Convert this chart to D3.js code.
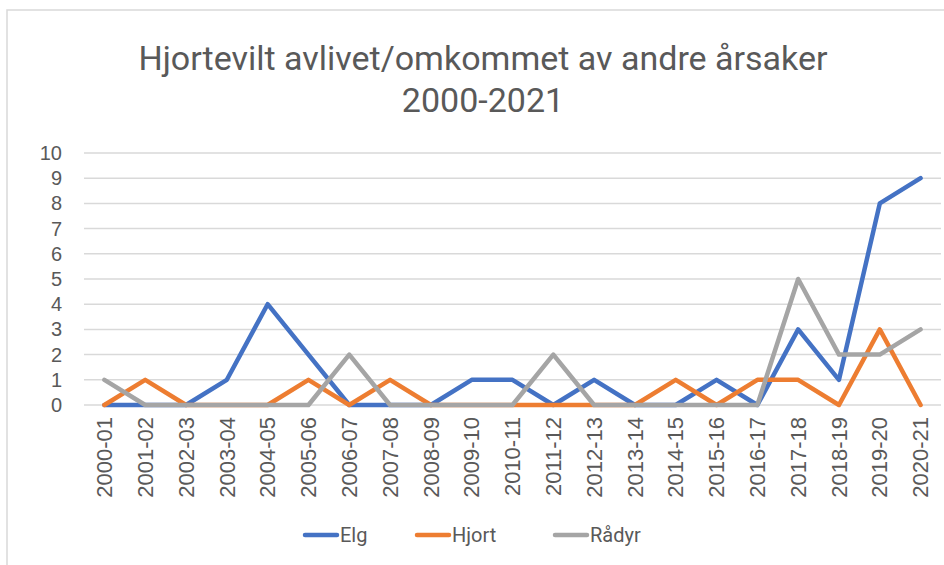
<!DOCTYPE html>
<html>
<head>
<meta charset="utf-8">
<script src="https://cdn.jsdelivr.net/npm/d3@7"></script>
<style>
  body { margin: 0; background: #fff; }
  svg { display: block; font-family: Roboto, "Liberation Sans", sans-serif; }
</style>
</head>
<body>
<svg id="chart" width="944" height="565"></svg>
<script>
var seasons = ["2000-01","2001-02","2002-03","2003-04","2004-05","2005-06","2006-07","2007-08","2008-09","2009-10",
  "2010-11","2011-12","2012-13","2013-14","2014-15","2015-16","2016-17","2017-18","2018-19","2019-20","2020-21"];
var elg    = [0,0,0,1,4,2,0,0,0,1,1,0,1,0,0,1,0,3,1,8,9];
var hjort  = [0,1,0,0,0,1,0,1,0,0,0,0,0,0,1,0,1,1,0,3,0];
var raadyr = [1,0,0,0,0,0,2,0,0,0,0,2,0,0,0,0,0,5,2,2,3];
var yTicks = [0,1,2,3,4,5,6,7,8,9,10];

var series = [
  {name: "Elg", values: elg, color: "#4472c4"},
  {name: "Hjort", values: hjort, color: "#ed7d31"},
  {name: "Rådyr", values: raadyr, color: "#a5a5a5"}
];

var svg = d3.select("#chart");
var plotLeft = 84, plotRight = 941, plotTop = 153, plotBottom = 405;

// chart frame
svg.append("rect").attr("x", 7).attr("y", 10).attr("width", 960).attr("height", 580)
  .attr("fill", "none").attr("stroke", "#d9d9d9").attr("stroke-width", 1.5);

// title
svg.append("text").attr("x", 483).attr("y", 70).attr("text-anchor", "middle")
  .attr("font-size", 34).attr("fill", "#595959").text("Hjortevilt avlivet/omkommet av andre årsaker");
svg.append("text").attr("x", 483).attr("y", 112).attr("text-anchor", "middle")
  .attr("font-size", 34).attr("fill", "#595959").text("2000-2021");

var x = d3.scaleBand().domain(seasons).range([plotLeft, plotRight]);
var y = d3.scaleLinear().domain([0, 10]).range([plotBottom, plotTop]);

// gridlines
svg.append("g").selectAll("line").data(yTicks).enter().append("line")
  .attr("x1", plotLeft).attr("x2", plotRight)
  .attr("y1", function(d){ return y(d); }).attr("y2", function(d){ return y(d); })
  .attr("stroke", "#d9d9d9").attr("stroke-width", 1.5);

// y axis
var yAxis = svg.append("g").attr("transform", "translate(" + (plotLeft - 22) + ",0)")
  .call(d3.axisLeft(y).tickValues(yTicks).tickSize(0).tickPadding(0));
yAxis.select(".domain").remove();
yAxis.selectAll("text").attr("font-size", 20).attr("fill", "#595959").attr("font-family", null);

// x axis
var xAxis = svg.append("g").attr("transform", "translate(0," + plotBottom + ")")
  .call(d3.axisBottom(x).tickSize(0).tickPadding(0));
xAxis.select(".domain").remove();
xAxis.selectAll("text")
  .attr("font-size", 22).attr("fill", "#595959").attr("font-family", null)
  .attr("transform", "rotate(-90)")
  .attr("text-anchor", "end").attr("dy", "0.35em")
  .attr("x", -12).attr("y", 0);

// lines
var line = d3.line()
  .x(function(d, i){ return x(seasons[i]) + x.bandwidth() / 2; })
  .y(function(d){ return y(d); });

svg.append("g").selectAll("path").data(series).enter().append("path")
  .attr("d", function(s){ return line(s.values); })
  .attr("fill", "none").attr("stroke", function(s){ return s.color; })
  .attr("stroke-width", 4.5).attr("stroke-linejoin", "round").attr("stroke-linecap", "round");

// legend
var legendX = [305, 417, 555];
var legend = svg.append("g").selectAll("g").data(series).enter().append("g")
  .attr("transform", function(s, i){ return "translate(" + legendX[i] + ",535)"; });
legend.append("line").attr("x1", 0).attr("x2", 32).attr("y1", 0).attr("y2", 0)
  .attr("stroke", function(s){ return s.color; }).attr("stroke-width", 4.5).attr("stroke-linecap", "round");
legend.append("text").attr("x", 35).attr("y", 0).attr("dy", "0.35em")
  .attr("font-size", 20).attr("fill", "#595959").text(function(s){ return s.name; });
</script>
</body>
</html>
